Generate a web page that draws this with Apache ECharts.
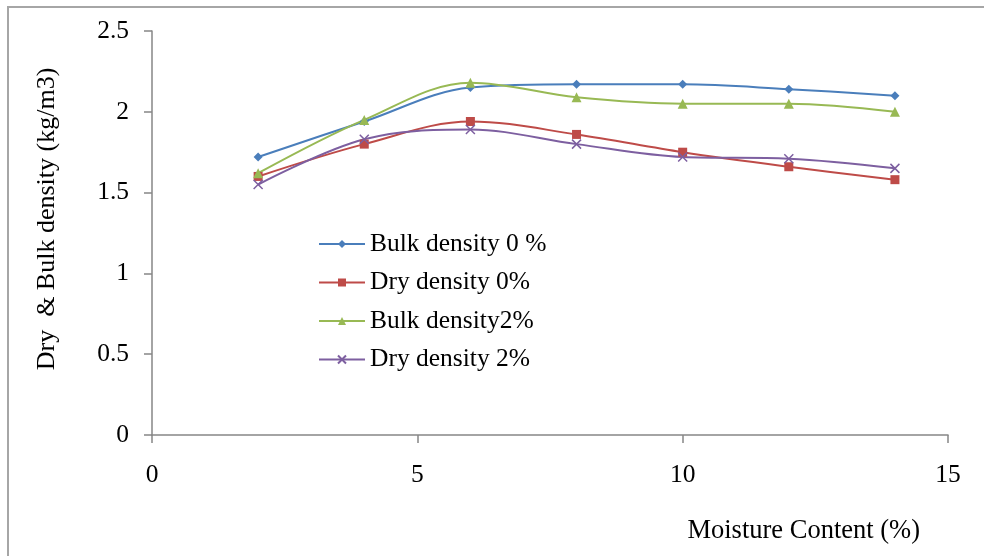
<!DOCTYPE html>
<html>
<head>
<meta charset="utf-8">
<script src="https://cdn.jsdelivr.net/npm/echarts@6/dist/echarts.min.js"></script>
<style>html,body{margin:0;padding:0;background:#fff;}#c{width:984px;height:556px;}</style>
</head>
<body>
<div id="c"></div>
<script>
var moisture = [2, 4, 6, 8, 10, 12, 14];
var bulkDensity0 = [1.72, 1.94, 2.15, 2.17, 2.17, 2.14, 2.10];
var dryDensity0 = [1.60, 1.80, 1.94, 1.86, 1.75, 1.66, 1.58];
var bulkDensity2 = [1.62, 1.95, 2.18, 2.09, 2.05, 2.05, 2.00];
var dryDensity2 = [1.55, 1.83, 1.89, 1.80, 1.72, 1.71, 1.65];
var seriesNames = ['Bulk density 0 %', 'Dry density 0%', 'Bulk density2%', 'Dry density 2%'];
var xTitle = 'Moisture Content (%)';
var yTitle = 'Dry  & Bulk density (kg/m3)';

function pairs(ys) { return moisture.map(function (x, i) { return [x, ys[i]]; }); }

var FONT = '"Liberation Serif", "Times New Roman", serif';
var axisGray = '#868686';
var chart = echarts.init(document.getElementById('c'));

function mk(name, data, color, symbol, size, extra) {
  return {
    name: name, type: 'line', data: pairs(data), smooth: 0.35,
    symbol: symbol, symbolSize: size, showSymbol: true,
    lineStyle: { color: color, width: 2 },
    itemStyle: Object.assign({ color: color }, extra || {}),
    emphasis: { disabled: true }, animation: false
  };
}

chart.setOption({
  animation: false,
  backgroundColor: '#ffffff',
  textStyle: { fontFamily: FONT },
  graphic: [{
    type: 'rect', shape: { x: 8, y: 7, width: 1000, height: 600 },
    style: { fill: 'none', stroke: '#a6a6a6', lineWidth: 2 }, silent: true, z: -10
  }],
  grid: { left: 152, right: 36, top: 31, bottom: 121, containLabel: false },
  legend: {
    orient: 'vertical', left: 313, top: 226, itemGap: 12.5,
    itemWidth: 46, itemHeight: 10,
    textStyle: { fontFamily: FONT, fontSize: 25.5, color: '#000', padding: [0, 0, 0, 0] },
    data: seriesNames
  },
  xAxis: {
    type: 'value', min: 0, max: 15, interval: 5,
    axisLine: { onZero: false, lineStyle: { color: axisGray, width: 1.5 } },
    axisTick: { show: true, length: 8, inside: false, lineStyle: { color: axisGray, width: 1.5 } },
    axisLabel: { fontFamily: FONT, fontSize: 25.5, color: '#000', margin: 27 },
    splitLine: { show: false },
    name: xTitle, nameLocation: 'end', nameGap: 0,
    nameTextStyle: { fontFamily: FONT, fontSize: 26.5, color: '#000', align: 'right', verticalAlign: 'top', padding: [83, 28, 0, 0] }
  },
  yAxis: {
    type: 'value', min: 0, max: 2.5, interval: 0.5,
    axisLine: { show: true, lineStyle: { color: axisGray, width: 1.5 } },
    axisTick: { show: true, length: 8, inside: false, lineStyle: { color: axisGray, width: 1.5 } },
    axisLabel: { fontFamily: FONT, fontSize: 25.5, color: '#000', margin: 23 },
    splitLine: { show: false },
    name: yTitle, nameLocation: 'middle', nameGap: 92, nameRotate: 90,
    nameTextStyle: { fontFamily: FONT, fontSize: 26, color: '#000', padding: [0, 0, 0, 28] }
  },
  series: [
    mk(seriesNames[0], bulkDensity0, '#4a7ebb', 'diamond', 9),
    mk(seriesNames[1], dryDensity0, '#be4b48', 'rect', 9),
    mk(seriesNames[2], bulkDensity2, '#98b954', 'triangle', 10),
    mk(seriesNames[3], dryDensity2, '#7d5fa0', 'path://M0,0L10,10M10,0L0,10', 9, { borderColor: '#7d5fa0', borderWidth: 1.5 })
  ]
});
</script>
</body>
</html>
